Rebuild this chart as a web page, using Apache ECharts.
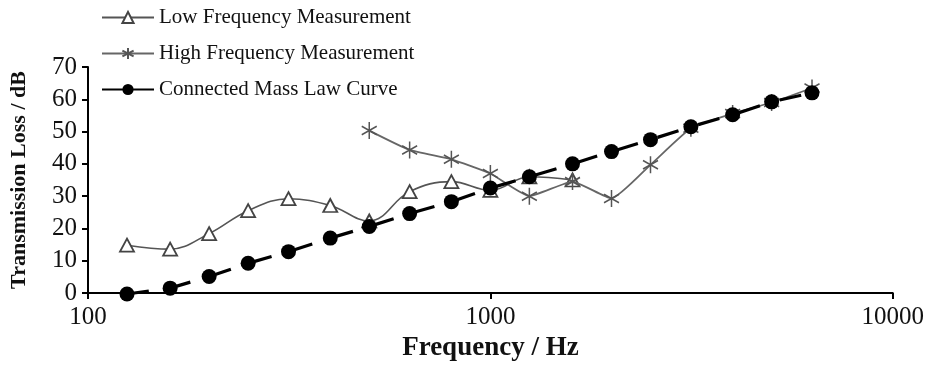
<!DOCTYPE html>
<html>
<head>
<meta charset="utf-8">
<script src="https://cdn.jsdelivr.net/npm/echarts@6/dist/echarts.min.js"></script>
<style>
  html, body { margin: 0; padding: 0; background: #fff; }
  #chart { width: 927px; height: 373px; }
</style>
</head>
<body>
<div id="chart"></div>
<script>
// One-third-octave band centre frequencies (Hz)
const lowFreqs = [125, 160, 200, 250, 315, 400, 500, 630, 800, 1000, 1250, 1600];
const lowValues = [14.8, 13.6, 18.4, 25.5, 29.2, 27.1, 22.3, 31.4, 34.5, 31.8, 36.0, 35.0];

const highFreqs = [500, 630, 800, 1000, 1250, 1600, 2000, 2500, 3150, 4000, 5000, 6300];
const highValues = [50.3, 44.3, 41.4, 37.0, 30.0, 34.5, 29.3, 39.7, 51.0, 55.6, 59.0, 63.5];

const massFreqs = [125, 160, 200, 250, 315, 400, 500, 630, 800, 1000, 1250, 1600, 2000, 2500, 3150, 4000, 5000, 6300];
const massValues = [-0.3, 1.5, 5.1, 9.2, 12.8, 17.0, 20.6, 24.6, 28.3, 32.5, 36.0, 40.0, 43.8, 47.5, 51.5, 55.2, 59.2, 62.0];

const xTicks = [100, 1000, 10000];
const yTicks = [0, 10, 20, 30, 40, 50, 60, 70];

const seriesNames = ['Low Frequency Measurement', 'High Frequency Measurement', 'Connected Mass Law Curve'];

const pair = (xs, ys) => xs.map((x, i) => [x, ys[i]]);

const serif = "'Liberation Serif', 'Times New Roman', serif";
const asterisk = 'path://M10,0L10,20M1.34,5L18.66,15M1.34,15L18.66,5';

const chart = echarts.init(document.getElementById('chart'), null, { renderer: 'canvas' });

chart.setOption({
  animation: false,
  backgroundColor: '#fff',
  textStyle: { fontFamily: serif },
  legend: {
    orient: 'vertical',
    left: 96,
    top: 2,
    itemWidth: 52,
    itemHeight: 14,
    itemGap: 15,
    textStyle: { fontFamily: serif, fontSize: 21, color: '#111' },
    data: [
      { name: seriesNames[0] },
      { name: seriesNames[1] },
      { name: seriesNames[2], lineStyle: { type: 'solid' } }
    ]
  },
  grid: { left: 81, right: 34, top: 67, bottom: 80, containLabel: false },
  xAxis: {
    type: 'log',
    logBase: 10,
    min: xTicks[0],
    max: xTicks[xTicks.length - 1],
    name: 'Frequency / Hz',
    nameLocation: 'middle',
    nameGap: 42,
    nameTextStyle: { fontFamily: serif, fontSize: 27, fontWeight: 'bold', color: '#111' },
    axisLine: { show: true, onZero: false, lineStyle: { color: '#000', width: 2 } },
    axisTick: { show: true, inside: false, length: 6, lineStyle: { color: '#000', width: 2 } },
    axisLabel: { fontFamily: serif, fontSize: 25, color: '#111', margin: 12, formatter: v => String(v) },
    splitLine: { show: false },
    minorTick: { show: false }
  },
  yAxis: {
    type: 'value',
    min: yTicks[0],
    max: yTicks[yTicks.length - 1],
    interval: 10,
    name: 'Transmission Loss / dB',
    nameLocation: 'middle',
    nameGap: 58,
    nameTextStyle: { fontFamily: serif, fontSize: 22, fontWeight: 'bold', color: '#111' },
    axisLine: { show: true, lineStyle: { color: '#000', width: 2 } },
    axisTick: { show: true, inside: false, length: 6, lineStyle: { color: '#000', width: 2 } },
    axisLabel: { fontFamily: serif, fontSize: 25, color: '#111', margin: 11 },
    splitLine: { show: false }
  },
  series: [
    {
      name: seriesNames[0],
      type: 'line',
      data: pair(lowFreqs, lowValues),
      smooth: 0.4,
      clip: false,
      symbol: 'triangle',
      symbolSize: [14, 13],
      showAllSymbol: true,
      lineStyle: { color: '#555', width: 1.6 },
      itemStyle: { color: '#fff', borderColor: '#444', borderWidth: 1.8 },
      z: 2
    },
    {
      name: seriesNames[1],
      type: 'line',
      data: pair(highFreqs, highValues),
      smooth: 0.15,
      clip: false,
      symbol: asterisk,
      symbolSize: [15, 17],
      showAllSymbol: true,
      lineStyle: { color: '#666', width: 1.8 },
      itemStyle: { color: '#555', borderColor: '#555', borderWidth: 1.6 },
      z: 3
    },
    {
      name: seriesNames[2],
      type: 'line',
      data: pair(massFreqs, massValues),
      smooth: false,
      clip: false,
      symbol: 'circle',
      symbolSize: 15,
      showAllSymbol: true,
      lineStyle: { color: '#000', width: 3.2, type: [22, 20.6] },
      itemStyle: { color: '#000', borderColor: '#000', borderWidth: 0 },
      z: 4
    }
  ]
});
</script>
</body>
</html>
